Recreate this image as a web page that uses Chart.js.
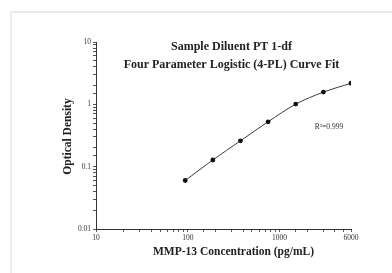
<!DOCTYPE html>
<html>
<head>
<meta charset="utf-8">
<script src="https://cdn.jsdelivr.net/npm/chart.js@4/dist/chart.umd.min.js"></script>
<style>
  html, body { margin: 0; padding: 0; background: #fff; }
  #wrap { position: relative; width: 392px; height: 273px; overflow: hidden; }
  #frame { position: absolute; left: 10px; top: 11px; width: 400px; height: 300px;
           border-left: 2px solid #ececec; border-top: 2px solid #ececec; }
  #box { position: absolute; left: 0; top: 0; width: 392px; height: 273px; }
</style>
</head>
<body>
<div id="wrap">
  <div id="frame"></div>
  <div id="box"><canvas id="myChart"></canvas></div>
</div>
<script>
// ######### datos
// ###########################################

const concentraciones = [93.75, 187.5, 375, 750, 1500, 3000, 6000];
const densidades = [0.06, 0.128, 0.26, 0.525, 1.01, 1.57, 2.18];
const xTickLabels = [10, 100, 1000, 6000];
const yTickLabels = [0.01, 0.1, 1, 10];

const titulo1 = 'Sample Diluent PT 1-df';
const titulo2 = 'Four Parameter Logistic (4-PL) Curve Fit';
const tituloX = 'MMP-13 Concentration (pg/mL)';
const tituloY = 'Optical Density';
const etiquetaR2 = 'R\u00B2=0.999';

const serif = '"Liberation Serif", "DejaVu Serif", serif';

// ######### textos dibujados sobre el grafico
// ###########################################

const textos = {
    id: 'textos',
    afterDraw(chart) {
        const c = chart.ctx;
        const a = chart.chartArea;
        c.save();
        c.fillStyle = '#222';
        c.textAlign = 'center';
        c.textBaseline = 'middle';
        c.font = 'bold 12px ' + serif;
        const cx = (a.left + a.right) / 2 + 8;
        c.fillText(titulo1, cx, a.top + 5);
        c.fillText(titulo2, cx, a.top + 23);

        c.font = 'bold 11.5px ' + serif;
        c.fillText(tituloX, (a.left + a.right) / 2 + 10, a.bottom + 23);

        c.save();
        c.translate(a.left - 28, (a.top + a.bottom) / 2 + 1);
        c.rotate(-Math.PI / 2);
        c.fillText(tituloY, 0, 0);
        c.restore();

        c.font = '7.5px ' + serif;
        c.fillStyle = '#333';
        c.fillText(etiquetaR2, a.right - 22, a.top + 85);
        c.restore();
    }
};

// ######### grafico - curva 4-PL
// ###########################################

const myChart = document.getElementById('myChart');

if(myChart) {
    var ctx = myChart.getContext('2d');
    var chart = new Chart(ctx, {
        type: 'line',
        data: {
            datasets: [{
                data: concentraciones.map((x, i) => ({ x: x, y: densidades[i] })),
                borderColor: '#3a3a3a',
                borderWidth: 1,
                backgroundColor: '#111',
                pointRadius: 2.4,
                pointBorderWidth: 0,
                tension: 0.3,
                fill: false
            }]
        },
        options: {
            responsive: true,
            maintainAspectRatio: false,
            animation: false,
            layout: { padding: { left: 0, top: 42, right: 41, bottom: 0 } },
            plugins: {
                legend: { display: false },
                tooltip: { enabled: false }
            },
            scales: {
                x: {
                    type: 'logarithmic',
                    min: 10,
                    max: 6000,
                    afterFit: (s) => { s.height = 44; },
                    border: { color: '#333', width: 1 },
                    grid: { drawOnChartArea: false, drawTicks: true, tickLength: 3, color: '#555' },
                    ticks: {
                        autoSkip: false,
                        maxRotation: 0,
                        padding: 2,
                        color: '#333',
                        font: { family: serif, size: 7.5 },
                        callback: (v) => xTickLabels.includes(v) ? String(v) : ''
                    }
                },
                y: {
                    type: 'logarithmic',
                    min: 0.01,
                    max: 10,
                    afterFit: (s) => { s.width = 96; },
                    border: { color: '#333', width: 1 },
                    grid: { drawOnChartArea: false, drawTicks: true, tickLength: 3, color: '#555' },
                    ticks: {
                        autoSkip: false,
                        padding: 2,
                        color: '#333',
                        font: { family: serif, size: 7.5 },
                        callback: (v) => yTickLabels.includes(v) ? String(v) : ''
                    }
                }
            }
        },
        plugins: [textos]
    });
}
</script>
</body>
</html>
